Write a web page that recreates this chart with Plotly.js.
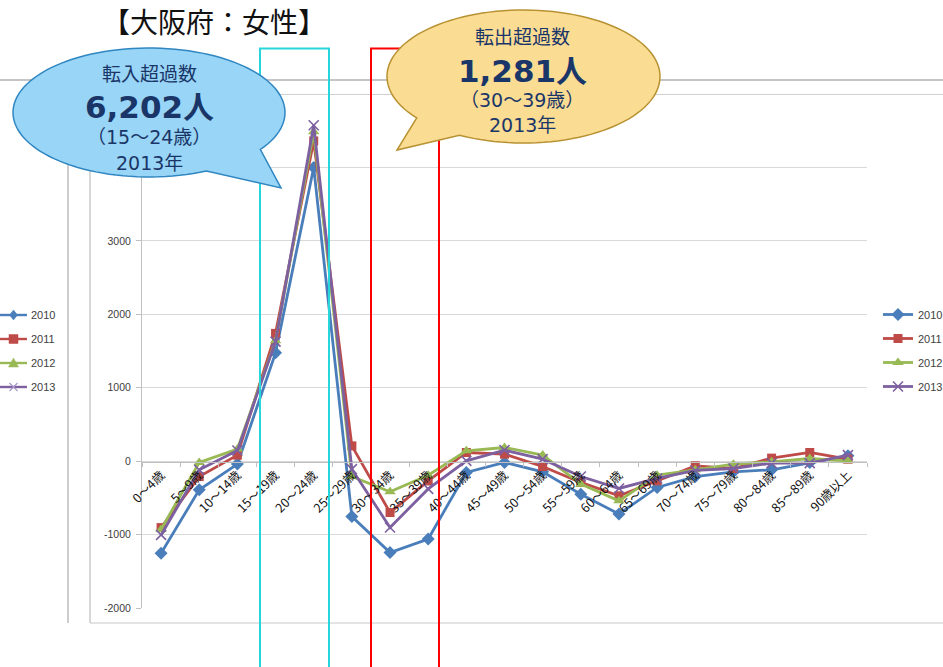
<!DOCTYPE html>
<html>
<head>
<meta charset="utf-8">
<script src="https://cdn.plot.ly/plotly-3.0.1.min.js"></script>
<style>html,body{margin:0;padding:0;background:#fff;}#chart{width:943px;height:667px;}</style>
</head>
<body>
<div id="chart"></div>
<script>
// ---- data ----
const categories = ["0～4歳","5～9歳","10～14歳","15～19歳","20～24歳","25～29歳","30～34歳","35～39歳","40～44歳","45～49歳","50～54歳","55～59歳","60～64歳","65～69歳","70～74歳","75～79歳","80～84歳","85～89歳","90歳以上"];
const seriesNames = ["2010","2011","2012","2013"];
const values2010 = [-1255,-390,-40,1475,4000,-755,-1245,-1060,-155,-18,-145,-450,-720,-358,-210,-145,-118,-18,73];
const values2011 = [-905,-210,82,1740,4360,208,-700,-270,118,95,-73,-290,-472,-268,-64,-100,41,118,27];
const values2012 = [-930,-18,165,1640,4485,-209,-418,-191,140,186,82,-313,-540,-191,-118,-41,-9,36,4];
const values2013 = [-1005,-118,145,1627,4575,-109,-903,-378,4,150,27,-209,-372,-236,-127,-100,-27,-27,82];
const yTickVals = [-2000,-1000,0,1000,2000,3000,4000,5000];
const yTickText = ["-2000","-1000","0","1000","2000","3000","",""];
const titleText = "【大阪府：女性】";
const inBubble = ["転入超過数","6,202人","（15～24歳）","2013年"];
const outBubble = ["転出超過数","1,281人","（30～39歳）","2013年"];

// ---- geometry helpers (pixel -> paper) ----
const W=943,H=667,L=142,R=867,T=94,B=608;
const px = x => (x-L)/(R-L);
const py = y => (B-y)/(B-T);

const colors = ["#4a7ebb","#be4b48","#98b954","#7d60a0"];
const symbols = ["diamond","square","triangle-up","x-thin-open"];
const sizes = [10,9,10,10];
const allValues = [values2010,values2011,values2012,values2013];

const traces = allValues.map((v,i)=>({
  type:'scatter', mode:'lines+markers', name:seriesNames[i],
  x:categories, y:v, legendgroup:'g'+i,
  line:{color:colors[i], width:2.8},
  marker: i===3 ? {symbol:symbols[i], size:sizes[i], color:colors[i], line:{color:colors[i], width:1.6}}
                : {symbol:symbols[i], size:sizes[i], color:colors[i]}
}));

function bubblePath(cx,cy,rx,ry,a1,a2,tx,ty){
  let pts=[];
  const end=a1+360;
  for(let a=a2;a<end;a+=3){pts.push(a);}
  pts.push(end);
  let d='';
  pts.forEach((a,k)=>{
    const r=a*Math.PI/180;
    const X=cx+rx*Math.cos(r), Y=cy+ry*Math.sin(r);
    d+=(k===0?'M':'L')+px(X).toFixed(5)+','+py(Y).toFixed(5)+' ';
  });
  d+='L'+px(tx).toFixed(5)+','+py(ty).toFixed(5)+' Z';
  return d;
}

function hline(x0,x1,y,color,w){return {type:'line',xref:'paper',yref:'paper',x0:px(x0),x1:px(x1),y0:py(y),y1:py(y),line:{color:color,width:w||1},layer:'below'};}
function vline(x,y0,y1,color,w){return {type:'line',xref:'paper',yref:'paper',x0:px(x),x1:px(x),y0:py(y0),y1:py(y1),line:{color:color,width:w||1},layer:'below'};}

const shapes = [
  hline(0,943,80,'#8c8c8c',1.2),
  hline(90,943,94.5,'#d0d0d0',1),
  vline(68,80,623,'#9a9a9a',1),
  vline(90,94,623,'#b0b0b0',1),
  hline(90,943,623,'#c8c8c8',1),
];
const legY=[315,339,363,387];
legY.forEach((y,i)=>{
  shapes.push({type:'line',xref:'paper',yref:'paper',x0:px(0),x1:px(27),y0:py(y),y1:py(y),line:{color:colors[i],width:2.4},layer:'above'});
});
function mk(path,color,fill,w){return {type:'path',xref:'paper',yref:'paper',path:path,fillcolor:fill,line:{color:color,width:w},layer:'above'};}
function P(arr){return arr.map((p,k)=>(k===0?'M':'L')+px(p[0]).toFixed(5)+','+py(p[1]).toFixed(5)).join(' ');}
const mx=13.5;
shapes.push(mk(P([[mx,315-5],[mx+4,315],[mx,315+5],[mx-4,315]])+' Z',colors[0],colors[0],0.5));
shapes.push(mk(P([[mx-4.5,339-4.5],[mx+4.5,339-4.5],[mx+4.5,339+4.5],[mx-4.5,339+4.5]])+' Z',colors[1],colors[1],0.5));
shapes.push(mk(P([[mx,363-5],[mx+5,363+4],[mx-5,363+4]])+' Z',colors[2],colors[2],0.5));
shapes.push(mk(P([[mx-4,387-4],[mx+4,387+4]])+' '+P([[mx+4,387-4],[mx-4,387+4]]),'#a898c8','rgba(0,0,0,0)',1.2));

shapes.push({type:'rect',xref:'paper',yref:'paper',x0:px(260),x1:px(329),y0:py(48.5),y1:py(700),line:{color:'#26d6db',width:2},fillcolor:'rgba(0,0,0,0)',layer:'above'});
shapes.push({type:'rect',xref:'paper',yref:'paper',x0:px(371),x1:px(439),y0:py(48.5),y1:py(700),line:{color:'#ff0000',width:2},fillcolor:'rgba(0,0,0,0)',layer:'above'});
shapes.push({type:'path',xref:'paper',yref:'paper',path:bubblePath(149,112.5,136,64.5,35,65,281,188),fillcolor:'#98d5f6',line:{color:'#2f86c0',width:1.5},layer:'above'});
shapes.push({type:'path',xref:'paper',yref:'paper',path:bubblePath(523.5,76.5,136.5,66.5,118,141.5,397,150),fillcolor:'#fbdc93',line:{color:'#b89232',width:1.5},layer:'above'});

const navy='#1a3668';
const latinCJK='"DejaVu Sans", "Noto Sans CJK JP", sans-serif';
const cjk='"Noto Sans CJK JP", sans-serif';
function ann(text,x,y,size,bold,family){
  return {xref:'paper',yref:'paper',x:px(x),y:py(y),xanchor:'center',yanchor:'middle',showarrow:false,
    text: bold?('<b>'+text+'</b>'):text, font:{size:size,color:navy,family:family}};
}
const annotations=[
  ann(inBubble[0],149,73,19,false,cjk),
  ann(inBubble[1],149,107,31,true,latinCJK),
  ann(inBubble[2],149,137,19,false,latinCJK),
  ann(inBubble[3],149,163,19,false,latinCJK),
  ann(outBubble[0],522,36,19,false,cjk),
  ann(outBubble[1],522,71,31,true,latinCJK),
  ann(outBubble[2],522,100,19,false,latinCJK),
  ann(outBubble[3],522,125,19,false,latinCJK),
];
seriesNames.forEach((n,i)=>{
  annotations.push({xref:'paper',yref:'paper',x:px(29),y:py(legY[i]),xanchor:'left',yanchor:'middle',showarrow:false,
    text:n,font:{size:11,color:'#404040',family:'"Liberation Sans", sans-serif'}});
});

const layout={
  width:W,height:H,
  margin:{l:L,r:W-R,t:T,b:H-B,pad:0,autoexpand:false},
  paper_bgcolor:'#ffffff',plot_bgcolor:'rgba(0,0,0,0)',
  title:{text:titleText,xref:'container',yref:'container',x:214/W,xanchor:'center',y:1-23/H,yanchor:'middle',
    font:{size:28,color:'#111111',family:cjk}},
  showlegend:true,
  legend:{x:px(878),xanchor:'left',y:py(300),yanchor:'top',tracegroupgap:5,
    font:{size:11,color:'#404040',family:'"Liberation Sans", sans-serif'},bgcolor:'rgba(0,0,0,0)',itemwidth:30},
  xaxis:{type:'category',range:[-0.5,18.5],anchor:'free',position:py(462),automargin:false,
    showline:true,linecolor:'#c0c0c0',linewidth:1,ticks:'outside',ticklen:4,tickcolor:'#c0c0c0',tickson:'boundaries',
    tickangle:-45,tickfont:{size:12.5,color:'#111111',family:cjk},showgrid:false,zeroline:false,fixedrange:true},
  yaxis:{range:[-2000,5000],tickvals:yTickVals,ticktext:yTickText,showgrid:true,gridcolor:'#d9d9d9',gridwidth:1,automargin:false,
    zeroline:false,showline:true,linecolor:'#c0c0c0',ticks:'outside',ticklen:5,tickcolor:'#c0c0c0',ticklabelstandoff:3,
    tickfont:{size:10.5,color:'#404040',family:'"Liberation Sans", sans-serif'},fixedrange:true},
  shapes:shapes,annotations:annotations
};
Plotly.newPlot('chart',traces,layout,{displayModeBar:false,staticPlot:true});
</script>
</body>
</html>
